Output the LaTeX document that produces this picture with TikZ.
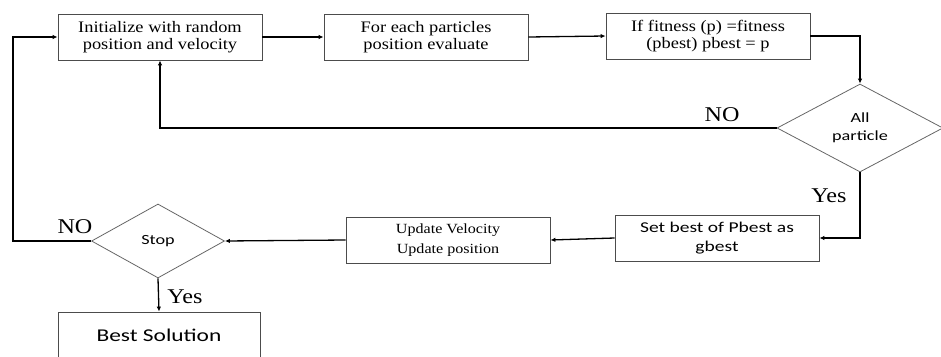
\documentclass[tikz,border=0pt]{standalone}
\usepackage{fontspec}
\setmainfont{Liberation Serif}
\newfontfamily\boxserif[FakeStretch=1.15]{Liberation Serif}
\newfontfamily\boxsans[FakeStretch=1.3]{Carlito}
\usetikzlibrary{shapes.geometric,arrows.meta}
\begin{document}
\begin{tikzpicture}[x=1pt,y=-1pt,
  procbox/.style={draw=black!70,line width=0.8pt,minimum width=204pt,minimum height=46pt,
    align=center,font=\boxserif\fontsize{16}{17}\selectfont,inner sep=0pt},
  decide/.style={draw=black!60,line width=0.8pt,diamond,aspect=1.8,inner sep=0pt,
    font=\boxsans\fontsize{14}{18}\selectfont,align=center},
  flow/.style={line width=1.3pt,-{Latex[length=5pt,width=4.5pt]}},
  lbl/.style={font=\boxserif\fontsize{21}{22}\selectfont}]
\useasboundingbox (0,0) rectangle (941,356);

\node[procbox] (init) at (160,37) {Initialize with random\\position and velocity};
\node[procbox] (eval) at (426,37) {For each particles\\position evaluate};
\node[procbox] (fit) at (708,36) {If fitness (p) =fitness\\(pbest) pbest = p};
\node[decide,minimum width=166pt,minimum height=88pt] (all) at (860,128) {All\\particle};
\node[procbox,font=\boxsans\fontsize{15}{19}\selectfont] (gbest) at (717,238) {Set best of Pbest as\\gbest};
\node[procbox,font=\boxserif\fontsize{14}{16}\selectfont] (upd) at (448,240) {Update Velocity\\[4pt]Update position};
\node[decide,minimum width=133pt,minimum height=74pt] (stop) at (158,241) {Stop};
\node[procbox,font=\boxsans\fontsize{18}{20}\selectfont,minimum width=202pt,minimum height=46pt] (best) at (159,335) {Best Solution};

\draw[flow] (init.east) -- (eval.west);
\draw[flow] (eval.east) -- (fit.west);
\draw[flow] (fit.east) -| (all.north);
\draw[flow] (all.west) -| (init.south);
\node[lbl] at (722,115) {NO};
\draw[flow] (all.south) |- (gbest.east);
\node[lbl] at (829,196) {Yes};
\draw[flow] (gbest.west) -- (upd.east);
\draw[flow] (upd.west) -- (stop.east);
\draw[flow] (stop.west) -- (13,241) |- (init.west);
\node[lbl] at (75,227) {NO};
\draw[flow] (stop.south) -- (best.north);
\node[lbl] at (185,297) {Yes};
\end{tikzpicture}
\end{document}
